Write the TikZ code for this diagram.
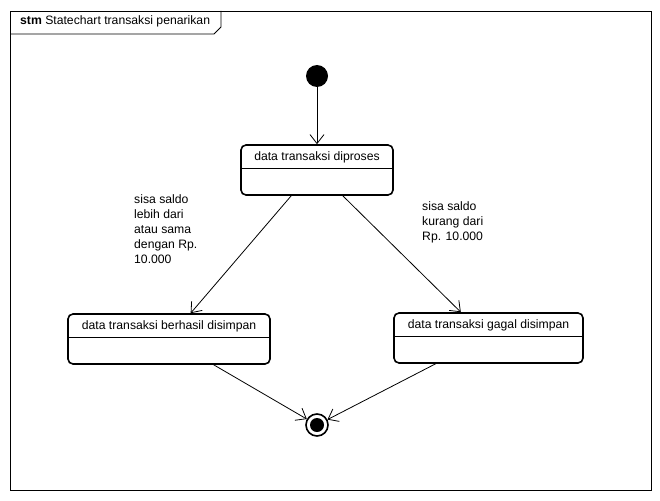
\documentclass[tikz,border=0pt]{standalone}
\usepackage{fontspec}
\setmainfont{Liberation Sans}
\usetikzlibrary{arrows.meta}
\begin{document}
\begin{tikzpicture}[x=1pt,y=-1pt,
  every node/.style={font=\fontsize{12.2}{15}\selectfont},
  state/.style={draw,line width=1.6pt,rounded corners=5pt,inner sep=0pt},
  divider/.style={line width=0.8pt},
  trans/.style={line width=0.8pt,-{Straight Barb[length=9pt,width=14pt,line width=0.8pt]}},
  lbl/.style={align=left,anchor=north west,inner sep=0pt}]
\useasboundingbox (0,0) rectangle (660,500);
% frame
\draw[line width=0.8pt] (10,11) rectangle (651,490);
\draw[line width=0.8pt] (10,34) -- (214,34) -- (221,27) -- (221,11);
\node[anchor=base west,inner sep=0pt] (title) at (20,25) {\textbf{stm} Statechart transaksi penarikan};
% initial
\node[circle,fill=black,minimum size=22pt,inner sep=0pt] (ini) at (317,76) {};
% states
\node[state,minimum width=152pt,minimum height=50pt] (s1) at (317,170) {};
\draw[divider] (241,168) -- (393,168);
\node (t1) at (317,157) {data transaksi diproses};
\node[state,minimum width=202pt,minimum height=50pt] (s2) at (169,339) {};
\draw[divider] (68,337) -- (270,337);
\node (t2) at (169,326) {data transaksi berhasil disimpan};
\node[state,minimum width=189pt,minimum height=50pt] (s3) at (488.5,338) {};
\draw[divider] (394,336) -- (583,336);
\node (t3) at (488.5,325) {data transaksi gagal disimpan};
% final
\node[circle,draw,line width=1.6pt,minimum size=22pt,inner sep=0pt] (fin) at (317,425) {};
\node[circle,fill=black,minimum size=14pt,inner sep=0pt] (finin) at (317,425) {};
% transitions
\draw[trans] (ini) -- (s1);
\draw[trans] (s1.-135) -- (s2.50);
\draw[trans] (s1.-45) -- (s3.137);
\draw[trans] (s2.-30) -- (fin);
\draw[trans] (s3.-154) -- (fin);
% labels
\node[lbl] (l1) at (134,194) {sisa saldo\\lebih dari\\atau sama\\dengan Rp.\\10.000};
\node[lbl] (l2) at (422,201) {sisa saldo\\kurang dari\\Rp. 10.000};
\end{tikzpicture}
\end{document}
